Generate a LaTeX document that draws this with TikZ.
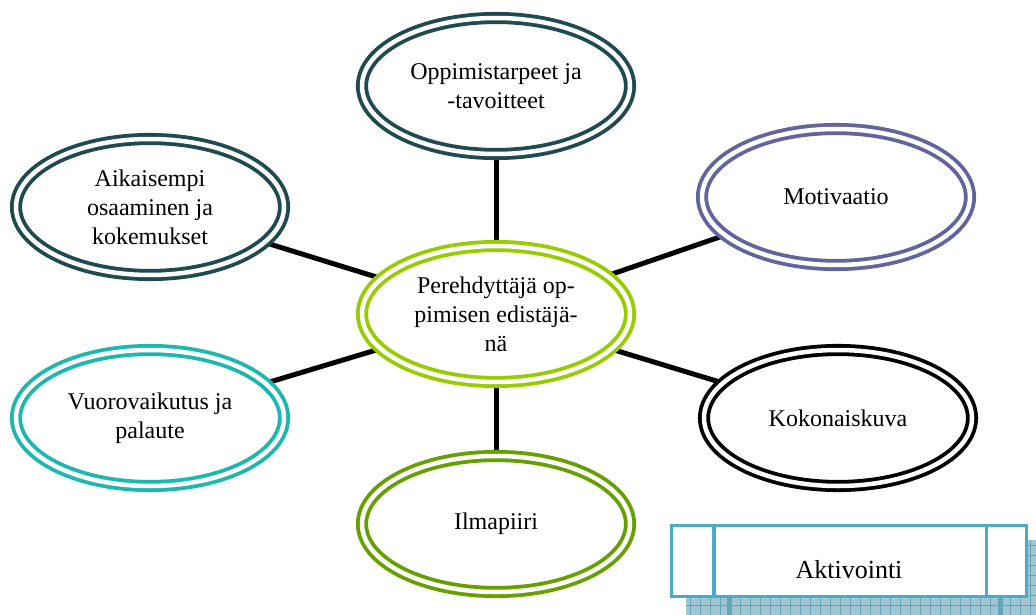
\documentclass[tikz,border=0pt]{standalone}
\usepackage{fontspec}
\setmainfont{Liberation Serif}
\usetikzlibrary{shapes.geometric,backgrounds}
\definecolor{darkteal}{RGB}{30,74,80}
\definecolor{purplegray}{RGB}{100,100,156}
\definecolor{lime}{RGB}{153,204,0}
\definecolor{tealc}{RGB}{28,184,176}
\definecolor{olive}{RGB}{102,160,0}
\definecolor{boxblue}{RGB}{75,172,198}
\definecolor{shadowfill}{RGB}{160,198,210}
\definecolor{shadowgrid}{RGB}{100,165,188}
\begin{document}
\begin{tikzpicture}[x=1pt,y=-1pt]
\tikzset{
  bub/.style={ellipse, draw=#1, double=white, double distance=4.5pt, line width=3.8pt,
    fill=white, minimum width=268pt, minimum height=136pt, align=center,
    font=\fontsize{24}{29}\selectfont, inner sep=0pt, text=black},
  conn/.style={line width=5pt, black}
}
\useasboundingbox (0,0) rectangle (1036,615);
% ellipses
\node[bub=darkteal] (t) at (496,86) {Oppimistarpeet ja\\-tavoitteet};
\node[bub=darkteal] (lt) at (150,207) {Aikaisempi\\osaaminen ja\\kokemukset};
\node[bub=purplegray] (rt) at (836,197) {Motivaatio};
\node[bub=lime] (c) at (496,314) {Perehdyttäjä op-\\pimisen edistäjä-\\nä};
\node[bub=tealc] (lb) at (150,418) {Vuorovaikutus ja\\palaute};
\node[bub=black] (rb) at (838,418) {Kokonaiskuva};
\node[bub=olive] (b) at (496,524) {Ilmapiiri};
\begin{pgfonlayer}{background}
\draw[conn] (c) -- (t);
\draw[conn] (c) -- (lt);
\draw[conn] (c) -- (rt);
\draw[conn] (c) -- (lb);
\draw[conn] (c) -- (rb);
\draw[conn] (c) -- (b);
\end{pgfonlayer}
% Aktivointi box with patterned shadow
\fill[shadowfill] (686,540) rectangle (1044,616);
\begin{scope}
\clip (686,540) rectangle (1044,616);
\foreach \x in {690,700,...,1040} \draw[shadowgrid, line width=0.8pt] (\x,540) -- (\x,616);
\foreach \y in {545,555,...,615} \draw[shadowgrid, line width=0.8pt] (686,\y) -- (1044,\y);
\fill[shadowgrid] (727,540) rectangle (732,616);
\fill[shadowgrid] (998,540) rectangle (1003,616);
\end{scope}
\node[draw=boxblue, line width=3.5pt, fill=white, minimum width=355pt, minimum height=71pt,
  inner sep=0pt] (a) at (849,561) {};
\draw[boxblue, line width=3.5pt] ([xshift=44pt]a.north west) -- ([xshift=44pt]a.south west);
\draw[boxblue, line width=3.5pt] ([xshift=-42pt]a.north east) -- ([xshift=-42pt]a.south east);
\node[font=\fontsize{26}{31}\selectfont, inner sep=0pt] (at) at ([yshift=-9pt]a.center) {Aktivointi};
\end{tikzpicture}
\end{document}
